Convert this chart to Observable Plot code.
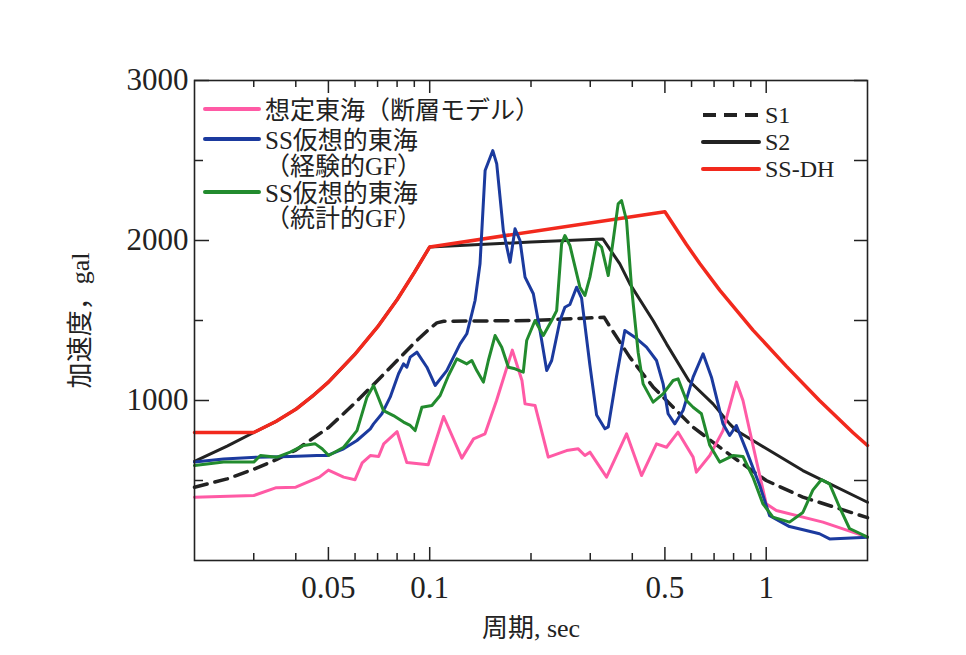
<!DOCTYPE html>
<html><head><meta charset="utf-8">
<script src="https://cdn.jsdelivr.net/npm/d3@7"></script>
<script src="https://cdn.jsdelivr.net/npm/@observablehq/plot@0.6"></script>
<style>body{margin:0;background:#fff}#chart{width:966px;height:655px}</style>
</head><body><div id="chart"></div>
<script>
// ---- data (period in sec, acceleration in gal) ----
const tokaiT = [0.02,0.03,0.035,0.040,0.047,0.050,0.0555,0.060,0.063,0.0666,0.0705,0.073,0.080,0.0855,0.099,0.110,0.1246,0.135,0.146,0.158,0.176,0.188,0.192,0.2056,0.2251,0.2552,0.2763,0.2892,0.2993,0.3354,0.3846,0.4261,0.4721,0.5055,0.5471,0.6064,0.6203,0.6797,0.744,0.8153,0.8531,0.9348,1.0,1.072,1.474,2.0];
const tokaiA = [396,406,455,458,521,565,521,505,610,656,650,729,805,612,598,900,640,760,792,1000,1315,1125,979,969,646,687,698,656,677,521,792,531,729,708,802,646,552,656,812,1115,1000,625,354,312,240,146];

const empT = [0.02,0.0244,0.0307,0.0385,0.0462,0.0495,0.0555,0.0608,0.0666,0.0681,0.0721,0.0763,0.0808,0.0836,0.0855,0.0875,0.0916,0.0981,0.1038,0.1124,0.1231,0.1289,0.1334,0.1364,0.1411,0.1461,0.154,0.1582,0.1655,0.1733,0.1793,0.1855,0.192,0.2032,0.2127,0.2227,0.2304,0.2439,0.2522,0.261,0.2732,0.2827,0.2993,0.3133,0.3317,0.3393,0.3591,0.3801,0.4071,0.4408,0.4721,0.4939,0.511,0.535,0.5661,0.6064,0.6492,0.6876,0.744,0.7789,0.8153,0.8733,0.9561,1.024,1.173,1.315,1.44,1.543,2.0];
const empA = [615,635,646,650,656,656,698,750,823,854,917,1021,1167,1229,1208,1271,1302,1208,1094,1187,1354,1417,1542,1625,1854,2437,2562,2479,2062,1864,2073,2000,1771,1667,1437,1187,1250,1500,1583,1600,1708,1640,1220,910,823,835,1150,1437,1396,1333,1250,1104,917,854,937,1146,1292,1146,854,781,844,687,470,280,212,187,167,135,146];

const statT = [0.02,0.0244,0.030,0.0314,0.0352,0.0385,0.0422,0.0457,0.0479,0.0501,0.0555,0.0608,0.0651,0.0681,0.0729,0.078,0.0836,0.0875,0.0905,0.0948,0.1015,0.1074,0.1137,0.1204,0.1289,0.1334,0.138,0.1444,0.1494,0.1564,0.1637,0.1713,0.1793,0.1897,0.1942,0.2056,0.2176,0.2304,0.2384,0.2466,0.2522,0.261,0.2795,0.2892,0.2993,0.3133,0.3242,0.3393,0.3509,0.3631,0.3716,0.3846,0.3979,0.4164,0.4307,0.4612,0.4939,0.5289,0.5471,0.5794,0.6064,0.642,0.6797,0.7274,0.7967,0.8531,0.9134,0.9779,1.047,1.173,1.285,1.376,1.458,1.543,1.652,1.768,2.0];
const statA = [594,615,615,656,646,677,719,729,698,656,708,812,1021,1094,937,906,865,844,812,958,969,1031,1156,1260,1229,1250,1187,1115,1250,1406,1333,1208,1198,1177,1375,1500,1406,1500,1562,1979,2031,1969,1708,1656,1771,1990,1958,1781,2000,2229,2250,2125,1708,1300,1104,990,1042,1125,1135,1000,958,917,720,615,656,650,520,354,271,240,300,440,505,479,333,200,146];

const s1T = [0.02,0.025,0.03,0.035,0.04,0.05,0.06,0.07,0.08,0.09,0.1,0.105,0.11,0.2,0.33,0.344,0.393,0.461,0.606,0.797,1.0,1.285,2.0];
const s1A = [458,510,570,630,690,830,985,1125,1250,1360,1450,1485,1495,1500,1520,1458,1271,1085,833,646,500,396,268];

const s2T = [0.02,0.025,0.03,0.035,0.04,0.045,0.05,0.06,0.07,0.08,0.09,0.1,0.2,0.327,0.3673,0.3934,0.461,0.5055,0.5886,0.695,0.7789,0.8153,1.0,1.285,2.0];
const s2A = [620,715,800,870,945,1030,1115,1290,1460,1630,1800,1960,1990,2010,1854,1729,1500,1354,1125,979,854,812,700,562,364];

const dhT = [0.02,0.03,0.035,0.04,0.045,0.05,0.06,0.07,0.08,0.09,0.1,0.5,0.5794,0.6346,0.7274,0.9134,1.147,1.44,1.809,2.0];
const dhA = [800,800,870,945,1030,1115,1290,1460,1630,1800,1960,2180,1975,1856,1690,1440,1215,1000,800,719];

const xMajorTicks = [0.05, 0.1, 0.5, 1];
const xTickLabels = ["0.05", "0.1", "0.5", "1"];
const xMinorTicks = [0.03,0.04,0.06,0.07,0.08,0.09,0.2,0.3,0.4,0.6,0.7,0.8,0.9];
const yMajorTicks = [1000, 2000, 3000];
const yTickLabels = ["1000", "2000", "3000"];
const yMinorTicks = [500, 1500, 2500];

const leftNames = [["想定東海（断層モデル）"], ["SS仮想的東海", "（経験的GF）"], ["SS仮想的東海", "（統計的GF）"]];
const leftColors = ["#ff5aa5", "#1b3a9e", "#228b2e"];
const rightNames = ["S1", "S2", "SS-DH"];
const rightColors = ["#222", "#222", "#f2291d"];
const rightDash = ["13,8", null, null];

// ---- chart ----
const W = 966, H = 655, mL = 194, mR = 99, mT = 80, mB = 95;
const fw = W - mL - mR, fh = H - mT - mB;
const rows = (T, A) => T.map((t, i) => ({t, a: A[i]}));
const serif = '"Liberation Serif","Noto Sans CJK JP",serif';
const ink = "#222";

const chart = Plot.plot({
  width: W, height: H,
  marginLeft: mL, marginRight: mR, marginTop: mT, marginBottom: mB,
  style: {fontFamily: serif, fontSize: "31px", background: "#fff", color: ink},
  x: {type: "log", domain: [0.02, 2]},
  y: {domain: [0, 3000]},
  marks: [
    Plot.line(rows(s1T, s1A), {x: "t", y: "a", stroke: rightColors[0], strokeWidth: 3.5, strokeDasharray: rightDash[0]}),
    Plot.line(rows(s2T, s2A), {x: "t", y: "a", stroke: rightColors[1], strokeWidth: 3}),
    Plot.line(rows(dhT, dhA), {x: "t", y: "a", stroke: rightColors[2], strokeWidth: 3.5}),
    Plot.line(rows(tokaiT, tokaiA), {x: "t", y: "a", stroke: leftColors[0], strokeWidth: 3}),
    Plot.line(rows(empT, empA), {x: "t", y: "a", stroke: leftColors[1], strokeWidth: 3}),
    Plot.line(rows(statT, statA), {x: "t", y: "a", stroke: leftColors[2], strokeWidth: 3}),
    Plot.frame({stroke: ink, strokeWidth: 1.6}),
    // inward ticks on all four sides
    Plot.ruleX(xMinorTicks, {x: d => d, insetTop: fh - 7, stroke: ink, strokeWidth: 1.5}),
    Plot.ruleX(xMajorTicks, {x: d => d, insetTop: fh - 13, stroke: ink, strokeWidth: 1.5}),
    Plot.ruleX(xMinorTicks, {x: d => d, insetBottom: fh - 7, stroke: ink, strokeWidth: 1.5}),
    Plot.ruleX(xMajorTicks, {x: d => d, insetBottom: fh - 13, stroke: ink, strokeWidth: 1.5}),
    Plot.ruleY(yMajorTicks, {y: d => d, insetRight: fw - 15, stroke: ink, strokeWidth: 1.5}),
    Plot.ruleY(yMinorTicks, {y: d => d, insetRight: fw - 9, stroke: ink, strokeWidth: 1.5}),
    Plot.ruleY(yMajorTicks.concat(yMinorTicks), {y: d => d, insetLeft: fw - 13, stroke: ink, strokeWidth: 1.5}),
    // tick labels
    Plot.axisX({anchor: "bottom", ticks: xMajorTicks, tickSize: 0, tickPadding: 15, label: null,
      tickFormat: d => xTickLabels[xMajorTicks.indexOf(d)]}),
    Plot.axisY({anchor: "left", ticks: yMajorTicks, tickSize: 0, tickPadding: 6, label: null,
      tickFormat: d => yTickLabels[yMajorTicks.indexOf(d)]}),
    // axis titles
    Plot.text(["周期, sec"], {frameAnchor: "bottom", dy: 68, lineAnchor: "middle", textAnchor: "middle", fontSize: 26, fill: ink}),
    Plot.text(["加速度，gal"], {frameAnchor: "left", dx: -114, rotate: -90, textAnchor: "middle", lineAnchor: "middle", fontSize: 26, fill: ink})
  ]
});
document.getElementById("chart").append(chart);

// ---- legends (inside the plot frame) ----
const svg = d3.select(chart);
const lg1 = svg.append("g").attr("font-family", serif).attr("font-size", 25).attr("fill", ink).attr("text-anchor", "start");
const rowY = [[110], [140, 166], [193, 218]];
leftNames.forEach((lines, i) => {
  lg1.append("line").attr("x1", 205).attr("x2", 259).attr("y1", rowY[i][0] - 1).attr("y2", rowY[i][0] - 1)
    .attr("stroke", leftColors[i]).attr("stroke-width", 4).attr("stroke-linecap", "round");
  lines.forEach((s, j) => {
    lg1.append("text").attr("x", 265).attr("y", rowY[i][j]).attr("dy", "0.36em").attr("text-anchor", "start").text(s);
  });
});
const lg2 = svg.append("g").attr("font-family", serif).attr("font-size", 24).attr("fill", ink).attr("text-anchor", "start");
const rY = [115, 142, 169];
rightNames.forEach((s, i) => {
  lg2.append("line").attr("x1", 703).attr("x2", 759).attr("y1", rY[i]).attr("y2", rY[i])
    .attr("stroke", rightColors[i]).attr("stroke-width", 4)
    .attr("stroke-dasharray", rightDash[i]).attr("stroke-linecap", rightDash[i] ? "butt" : "round");
  lg2.append("text").attr("x", 765).attr("y", rY[i]).attr("dy", "0.34em").attr("text-anchor", "start").text(s);
});
</script>
</body></html>
